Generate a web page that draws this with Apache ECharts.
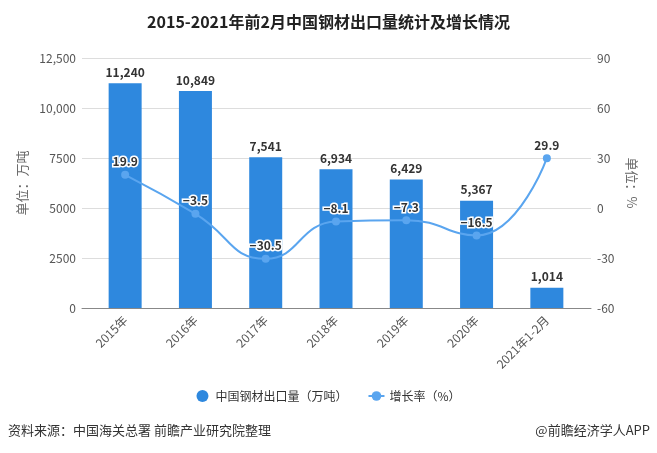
<!DOCTYPE html>
<html><head><meta charset="utf-8">
<script src="https://cdn.jsdelivr.net/npm/echarts@6/dist/echarts.min.js"></script>
<style>html,body{margin:0;padding:0;background:#fff}#c{width:657px;height:453px}</style>
</head><body><div id="c"></div>
<script>
const categories = ['2015年','2016年','2017年','2018年','2019年','2020年','2021年1-2月'];
const exportVolume = [11240, 10849, 7541, 6934, 6429, 5367, 1014];
const growthRate = [19.9, -3.5, -30.5, -8.1, -7.3, -16.5, 29.9];
const leftTickLabels = {0:'0',2500:'2500',5000:'5000',7500:'7500',10000:'10,000',12500:'12,500'};
const font = '"Noto Sans CJK SC", "Microsoft YaHei", sans-serif';
const chart = echarts.init(document.getElementById('c'));
chart.setOption({
  animation: false,
  textStyle: {fontFamily: font},
  title: {text: '2015-2021年前2月中国钢材出口量统计及增长情况', left: 'center', top: 9,
    textStyle: {fontSize: 16, fontWeight: 'bold', color: '#222', fontFamily: font}},
  legend: {bottom: 46, left: 'center', itemGap: 20, itemWidth: 16, itemHeight: 12,
    textStyle: {fontSize: 12, color: '#333'},
    data: [{name: '中国钢材出口量（万吨）', icon: 'circle'}, {name: '增长率（%）'}]},
  grid: [
    {left: 82, right: 66, top: 58, bottom: 145},
    {left: 90, right: 75, top: 58, bottom: 145}
  ],
  xAxis: [
    {type: 'value', gridIndex: 0, min: 0, max: 1, axisLine: {show: true, onZero: false, lineStyle: {color: '#888'}},
     axisTick: {show: false}, axisLabel: {show: false}, splitLine: {show: false}},
    {type: 'category', gridIndex: 1, data: categories,
     axisTick: {alignWithLabel: true, lineStyle: {color: '#888'}},
     axisLine: {show: false},
     axisLabel: {rotate: 45, color: '#555', fontSize: 12, interval: 0, margin: 10}}
  ],
  yAxis: [
    {type: 'value', gridIndex: 0, min: 0, max: 12500, interval: 2500, name: '单位：万吨',
     nameLocation: 'middle', nameRotate: 90, nameGap: 52,
     nameTextStyle: {color: '#666', fontSize: 13},
     axisLine: {show: false}, axisTick: {show: false},
     splitLine: {lineStyle: {color: '#ddd'}},
     axisLabel: {color: '#555', fontSize: 12, margin: 6, formatter: v => leftTickLabels[v]}},
    {type: 'value', gridIndex: 0, position: 'right', min: -60, max: 90, interval: 30, name: '单位：%',
     nameLocation: 'middle', nameRotate: -90, nameGap: 34,
     nameTextStyle: {color: '#666', fontSize: 13},
     axisLine: {show: false}, axisTick: {show: false},
     splitLine: {show: false},
     axisLabel: {color: '#555', fontSize: 12, margin: 6}},
    {type: 'value', gridIndex: 1, min: 0, max: 12500, interval: 2500, show: false, splitLine: {show: false}},
    {type: 'value', gridIndex: 1, min: -60, max: 90, interval: 30, show: false, splitLine: {show: false}}
  ],
  series: [
    {name: '中国钢材出口量（万吨）', type: 'bar', xAxisIndex: 1, yAxisIndex: 2, data: exportVolume, barWidth: 33,
     itemStyle: {color: '#2e88de'},
     label: {show: true, position: 'top', color: '#333', fontSize: 12, fontWeight: 'bold',
       formatter: p => p.value.toLocaleString('en-US')}},
    {name: '增长率（%）', type: 'line', xAxisIndex: 1, yAxisIndex: 3, data: growthRate, smooth: true,
     symbol: 'circle', symbolSize: 8,
     itemStyle: {color: '#5aa5ef'}, lineStyle: {color: '#5aa5ef', width: 2},
     label: {show: true, position: 'top', distance: 3, color: '#333', fontSize: 12, fontWeight: 'bold',
       textBorderColor: '#fff', textBorderWidth: 3,
       formatter: p => p.value < 0 ? '−' + Math.abs(p.value) : String(p.value)}}
  ],
  graphic: [
    {type: 'text', left: 8, top: 424, style: {text: '资料来源：中国海关总署 前瞻产业研究院整理', fill: '#333', fontSize: 13, fontFamily: font}},
    {type: 'text', right: 7, top: 424, style: {text: '@前瞻经济学人APP', fill: '#333', fontSize: 13, fontFamily: font}}
  ]
});
</script></body></html>
